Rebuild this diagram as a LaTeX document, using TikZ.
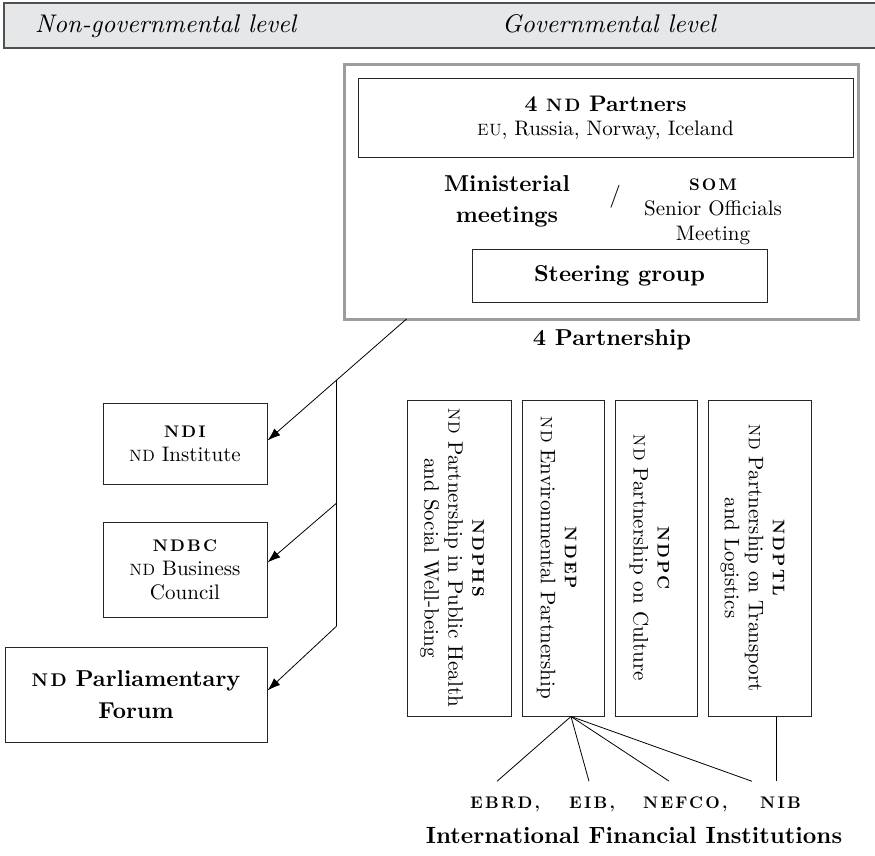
\documentclass[tikz,border=0pt]{standalone}
\usepackage{fontspec}
\setmainfont{lmroman10}[Extension=.otf, UprightFont=*-regular, BoldFont=*-bold, ItalicFont=*-italic, BoldItalicFont=*-bolditalic]
\usepackage{graphicx}
\usetikzlibrary{arrows.meta,calc}
\definecolor{hdr}{HTML}{E6E7E8}
\definecolor{hdrline}{HTML}{505050}
\definecolor{govgray}{HTML}{9D9D9D}
\makeatletter
\newcommand\smc[1]{{\fontsize{\fpeval{0.78*\f@size}}{\f@baselineskip}\selectfont\addfontfeature{LetterSpace=5}#1}}
\newcommand\smcb[1]{{\fontsize{\fpeval{0.8*\f@size}}{\f@baselineskip}\selectfont\addfontfeature{LetterSpace=13}#1}}
\makeatother
\tikzset{
  box/.style={draw=black!85, line width=1pt, inner sep=0pt, align=center},
  txt/.style={inner sep=0pt, align=center},
  arr/.style={-{Latex[length=13pt,width=9pt]}, line width=0.8pt},
  ln/.style={line width=0.8pt},
  rm/.style={font=\fontsize{21}{24}\selectfont},
  bfl/.style={font=\fontsize{23}{30}\selectfont\bfseries},
  hd/.style={txt, anchor=base west, font=\fontsize{25.5}{28}\selectfont\itshape},
  ifi/.style={txt, anchor=base west, font=\fontsize{21}{24}\selectfont\bfseries},
  vbox/.style={box, minimum height=316pt},
  vtxt/.style={txt, rm, rotate=-90},
}
\begin{document}
\begin{tikzpicture}[x=1pt,y=-1pt]
\useasboundingbox (0,0) rectangle (875,856);
% header band
\fill[hdr] (4,3) rectangle (884,48);
\draw[hdrline, line width=1.5pt] (884,3) -- (4,3) -- (4,48) -- (884,48);
\node[hd] (ngl) at (35,33) {Non-governmental level};
\node[hd] (gl) at (502,33) {Governmental level};
% governmental box
\node[draw=govgray, line width=3pt, minimum width=514pt, minimum height=254pt, inner sep=0pt] (gov) at (601,192) {};
\node[box, rm, minimum width=495pt, minimum height=78pt] (partners) at (605.5,118)
  {{\fontsize{22.5}{24}\selectfont\bfseries 4 \smcb{ND} Partners}\\\smc{EU}, Russia, Norway, Iceland};
\node[txt, font=\fontsize{23}{31}\selectfont\bfseries] (min) at (507,201) {Ministerial\\meetings};
\node[txt, font=\fontsize{23}{24}\selectfont] (slash) at (615,197) {/};
\node[txt, font=\fontsize{21}{25}\selectfont] (som) at (713,211.5) {{\bfseries\smcb{SOM}}\\Senior Officials\\Meeting};
\node[box, bfl, minimum width=295pt, minimum height=53pt] (steer) at (619.5,275.5) {Steering group};
% partnerships
\node[txt, bfl] (part) at (612,340) {4 Partnership};
\node[vbox, minimum width=104pt] (ndphs) at (459,558) {};
\node[vtxt] (ndphst) at (452,558) {{\bfseries\smcb{NDPHS}}\\\smc{ND} Partnership in Public Health\\and Social Well-being};
\node[vbox, minimum width=82pt] (ndep) at (563,558) {};
\node[vtxt] (ndept) at (556.5,558) {{\bfseries\smcb{NDEP}}\\\smc{ND} Environmental Partnership};
\node[vbox, minimum width=82pt] (ndpc) at (656,558) {};
\node[vtxt] (ndpct) at (649.5,558) {{\bfseries\smcb{NDPC}}\\\smc{ND} Partnership on Culture};
\node[vbox, minimum width=103pt] (ndptl) at (759.5,558) {};
\node[vtxt] (ndptlt) at (752.5,558) {{\bfseries\smcb{NDPTL}}\\\smc{ND} Partnership on Transport\\and Logistics};
% non-governmental boxes
\node[box, rm, minimum width=164pt, minimum height=81pt] (ndi) at (185,443.5)
  {{\bfseries\smcb{NDI}}\\\smc{ND} Institute};
\node[box, rm, minimum width=164pt, minimum height=95pt] (ndbc) at (185,569.5)
  {{\bfseries\smcb{NDBC}}\\\smc{ND} Business\\Council};
\node[box, font=\fontsize{23}{32}\selectfont\bfseries, minimum width=262pt, minimum height=95pt] (forum) at (136,694.5)
  {\smcb{ND} Parliamentary\\Forum};
% IFIs
\node[ifi] (ebrd) at (470,808) {\smcb{EBRD,}};
\node[ifi] (eib) at (569,808) {\smcb{EIB,}};
\node[ifi] (nefco) at (643,808) {\smcb{NEFCO,}};
\node[ifi] (nib) at (760,808) {\smcb{NIB}};
\node[txt, font=\fontsize{23.5}{26}\selectfont\bfseries] (ifin) at (634,835) {International Financial Institutions};
% connectors: governmental -> non-governmental
\coordinate (s) at ([xshift=64pt,yshift=1.5pt]gov.south west);
\coordinate (ndiend) at ([yshift=3pt]ndi.east);
\draw[arr] (s) -- (ndiend);
\coordinate (j1) at ($(s)!0.5035!(ndiend)$);
\coordinate (j2) at ($(j1)+(0,123)$);
\coordinate (j3) at ($(j1)+(0,246)$);
\draw[ln] (j1) -- (j3);
\draw[arr] (j2) -- ([yshift=7pt]ndbc.east);
\draw[arr] (j3) -- ([yshift=4pt]forum.east);
% connectors: NDEP -> IFIs
\coordinate (fan) at ([xshift=8pt]ndep.south);
\draw[ln] (fan) -- ([xshift=27pt,yshift=15pt]ebrd.north west);
\draw[ln] (fan) -- ([xshift=20pt,yshift=15pt]eib.north west);
\draw[ln] (fan) -- ([xshift=26pt,yshift=15pt]nefco.north west);
\draw[ln] (fan) -- ([xshift=-8pt,yshift=15pt]nib.north west);
\draw[ln] ([xshift=16.5pt]ndptl.south) -- ([xshift=16pt,yshift=15pt]nib.north west);
\end{tikzpicture}
\end{document}
